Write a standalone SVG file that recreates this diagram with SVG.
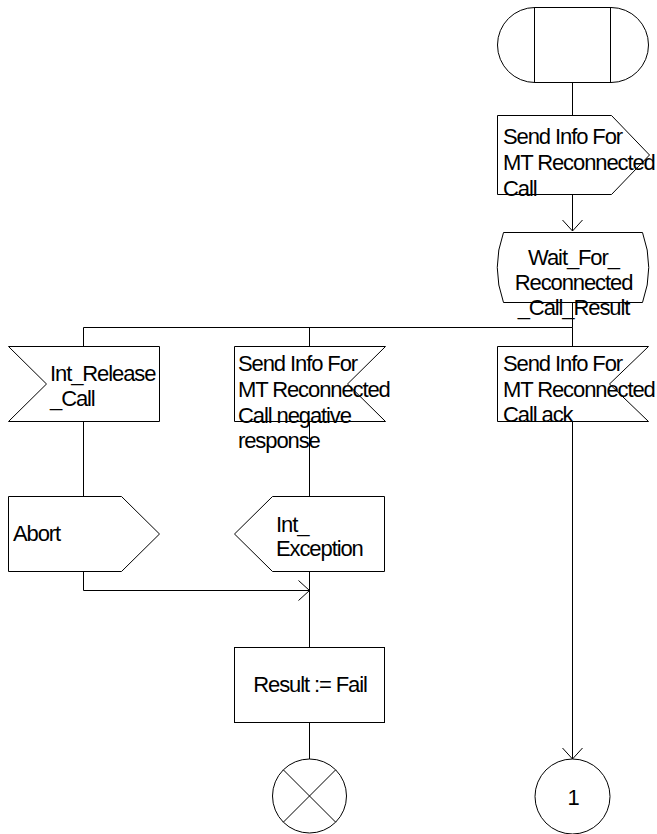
<svg xmlns="http://www.w3.org/2000/svg" width="657" height="834" viewBox="0 0 657 834">
<style>
.s{fill:#fff;stroke:#000;stroke-width:1}
.c{fill:none;stroke:#000;stroke-width:1}
text{font-family:"Liberation Sans",Arial,sans-serif;font-size:22px;letter-spacing:-1.1px;fill:#000}
.m{text-anchor:middle}
</style>
<defs>
<marker id="arr" markerUnits="userSpaceOnUse" markerWidth="24" markerHeight="24" viewBox="-12 -12 24 24" refX="0" refY="0" orient="auto" overflow="visible">
<path d="M-11,-10 L0,0 L-11,10" fill="none" stroke="#000" stroke-width="1"/>
</marker>
</defs>
<rect width="657" height="834" fill="#fff"/>
<g id="connectors">
<path class="c" d="M572.5,82 V115"/>
<path class="c" d="M572.5,194 V231" marker-end="url(#arr)"/>
<path class="c" d="M572.5,302 V327.5 H83.5 V346"/>
<path class="c" d="M309.5,327.5 V346"/>
<path class="c" d="M572.5,327.5 V346"/>
<path class="c" d="M83.5,421 V496"/>
<path class="c" d="M309.5,421 V496"/>
<path class="c" d="M572.5,421 V759" marker-end="url(#arr)"/>
<path class="c" d="M83.5,571 V590.5 H309.5" marker-end="url(#arr)"/>
<path class="c" d="M309.5,571 V647"/>
<path class="c" d="M309.5,722 V759"/>
</g>
<g id="start">
<rect class="s" x="497.5" y="7.5" width="151" height="75" rx="37.5" ry="37.5"/>
<path class="c" d="M534.5,7.5 V82.5 M610.5,7.5 V82.5"/>
</g>
<g id="out_send_info">
<polygon class="s" points="497.5,115.5 611.5,115.5 649.5,155 611.5,194.5 497.5,194.5"/>
<text x="503" y="144">Send Info For</text>
<text x="503" y="170">MT Reconnected</text>
<text x="503" y="196">Call</text>
</g>
<g id="state_wait">
<path class="s" d="M503.5,232.5 H642.5 Q655,267.5 642.5,302.5 H503.5 Q491,267.5 503.5,232.5 Z"/>
<text class="m" x="573.5" y="265">Wait_For_</text>
<text class="m" x="573.5" y="290">Reconnected</text>
<text class="m" x="573.5" y="315">_Call_Result</text>
</g>
<g id="in_int_release">
<polygon class="s" points="8.5,346.5 159.5,346.5 159.5,421.5 8.5,421.5 46.5,384"/>
<text x="50" y="381">Int_Release</text>
<text x="50" y="406">_Call</text>
</g>
<g id="in_negative">
<polygon class="s" points="234.5,346.5 385.5,346.5 347.5,384 385.5,421.5 234.5,421.5"/>
<text x="238" y="371">Send Info For</text>
<text x="238" y="397">MT Reconnected</text>
<text x="238" y="423">Call negative</text>
<text x="238" y="448">response</text>
</g>
<g id="in_ack">
<polygon class="s" points="497.5,346.5 648.5,346.5 609.5,384 648.5,421.5 497.5,421.5"/>
<text x="503" y="371">Send Info For</text>
<text x="503" y="397">MT Reconnected</text>
<text x="503" y="422">Call ack</text>
</g>
<g id="out_abort">
<polygon class="s" points="8.5,496.5 121.5,496.5 159.5,534 121.5,571.5 8.5,571.5"/>
<text x="13" y="541">Abort</text>
</g>
<g id="out_int_exception">
<polygon class="s" points="234.5,534 272.5,496.5 384.5,496.5 384.5,571.5 272.5,571.5"/>
<text x="276" y="532">Int_</text>
<text x="276" y="556">Exception</text>
</g>
<g id="task_result">
<rect class="s" x="234.5" y="647.5" width="150" height="75"/>
<text class="m" x="310" y="692">Result := Fail</text>
</g>
<g id="stop">
<circle class="s" cx="309.5" cy="796" r="37"/>
<path class="c" d="M283.3,769.8 L335.7,822.2 M335.7,769.8 L283.3,822.2"/>
</g>
<g id="connector_1">
<circle class="s" cx="572.5" cy="796.5" r="37.5"/>
<text class="m" x="573" y="805">1</text>
</g>
</svg>
